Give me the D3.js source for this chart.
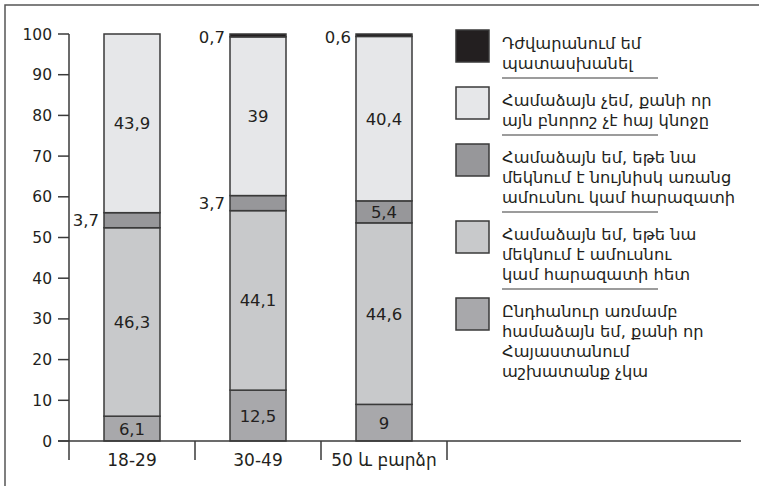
<!DOCTYPE html>
<html>
<head>
<meta charset="utf-8">
<script src="https://cdn.jsdelivr.net/npm/d3@7/dist/d3.min.js"></script>
<style>
  html, body { margin: 0; padding: 0; background: #fff; }
  svg { display: block; }
  text { font-family: "DejaVu Sans", Verdana, sans-serif; fill: #231f20; }
</style>
</head>
<body>
<svg id="chart" width="759" height="486"></svg>
<script>
// ---- data ----
const categories = ["18-29", "30-49", "50 և բարձր"];
const seriesNames = [
  "Ընդհանուր առմամբ համաձայն եմ, քանի որ Հայաստանում աշխատանք չկա",
  "Համաձայն եմ, եթե նա մեկնում է ամուսնու կամ հարազատի հետ",
  "Համաձայն եմ, եթե նա մեկնում է նույնիսկ առանց ամուսնու կամ հարազատի",
  "Համաձայն չեմ, քանի որ այն բնորոշ չէ հայ կնոջը",
  "Դժվարանում եմ պատասխանել"
];
const legendLines = [
  ["Ընդհանուր առմամբ", "համաձայն եմ, քանի որ", "Հայաստանում", "աշխատանք չկա"],
  ["Համաձայն եմ, եթե նա", "մեկնում է ամուսնու", "կամ հարազատի հետ"],
  ["Համաձայն եմ, եթե նա", "մեկնում է նույնիսկ առանց", "ամուսնու կամ հարազատի"],
  ["Համաձայն չեմ, քանի որ", "այն բնորոշ չէ հայ կնոջը"],
  ["Դժվարանում եմ", "պատասխանել"]
];
const nationalWork   = [6.1, 12.5, 9];
const withHusband    = [46.3, 44.1, 44.6];
const withoutHusband = [3.7, 3.7, 5.4];
const disagree       = [43.9, 39, 40.4];
const hardToSay      = [0, 0.7, 0.6];
const yTicks = [0, 10, 20, 30, 40, 50, 60, 70, 80, 90, 100];
const colors = ["#a8a8ab", "#c8c9cb", "#97979a", "#e6e7e9", "#231f20"];

const seriesValues = [nationalWork, withHusband, withoutHusband, disagree, hardToSay];

// ---- layout ----
const svg = d3.select("#chart");
const y = d3.scaleLinear().domain([0, 100]).range([441, 34]);
const x = d3.scaleBand().domain(categories).range([69, 447]).paddingInner(0).paddingOuter(0);
const barW = 56;
const stroke = "#3a3a3a";

// frame
svg.append("path")
  .attr("d", "M5,486 L5,5 L759,5")
  .attr("fill", "none").attr("stroke", "#555").attr("stroke-width", 1.5);

// stacked data
const table = categories.map((c, i) => {
  const o = { cat: c, idx: i };
  seriesNames.forEach((s, k) => o[s] = seriesValues[k][i]);
  return o;
});
const stack = d3.stack().keys(seriesNames)(table);

const g = svg.append("g");
stack.forEach((layer, k) => {
  g.selectAll(null).data(layer.filter(d => seriesValues[k][d.data.idx] > 0)).join("rect")
    .attr("x", d => x(d.data.cat) + (x.bandwidth() - barW) / 2)
    .attr("width", barW)
    .attr("y", d => y(d[1]))
    .attr("height", d => y(d[0]) - y(d[1]))
    .attr("fill", colors[k])
    .attr("stroke", stroke)
    .attr("stroke-width", 1.5);
});

// value labels
const fmt = v => String(v).replace(".", ",");
stack.forEach((layer, k) => {
  layer.forEach((d) => {
    const v = seriesValues[k][d.data.idx];
    if (v <= 0) return;
    const cx = x(d.data.cat) + x.bandwidth() / 2;
    const cy = (y(d[0]) + y(d[1])) / 2;
    const small = v < 5;
    const t = svg.append("text")
      .attr("font-size", 16.5)
      .attr("dy", "0.36em")
      .text(fmt(v));
    if (small) {
      t.attr("x", cx - barW / 2 - 5).attr("y", k === 4 ? cy + 2 : cy).attr("text-anchor", "end");
    } else {
      t.attr("x", cx).attr("y", cy).attr("text-anchor", "middle");
    }
  });
});

// y axis
const yAxis = svg.append("g");
yAxis.append("line").attr("x1", 69).attr("x2", 69).attr("y1", y(100)).attr("y2", 460)
  .attr("stroke", stroke).attr("stroke-width", 1.5);
yTicks.forEach(t => {
  yAxis.append("line").attr("x1", 58).attr("x2", 69).attr("y1", y(t)).attr("y2", y(t))
    .attr("stroke", stroke).attr("stroke-width", 1.5);
  yAxis.append("text").attr("x", 52).attr("y", y(t)).attr("dy", "0.36em")
    .attr("text-anchor", "end").attr("font-size", 15.5).text(t);
});

// x axis baseline
svg.append("line").attr("x1", 58).attr("x2", 741).attr("y1", y(0)).attr("y2", y(0))
  .attr("stroke", stroke).attr("stroke-width", 1.5);
// category separators
categories.forEach((c) => {
  const xe = x(c) + x.bandwidth();
  svg.append("line").attr("x1", xe).attr("x2", xe).attr("y1", y(0)).attr("y2", 460)
    .attr("stroke", stroke).attr("stroke-width", 1.5);
  svg.append("text").attr("x", x(c) + x.bandwidth() / 2).attr("y", 466)
    .attr("text-anchor", "middle").attr("font-size", 17).text(c);
});

// legend (top to bottom = reverse stack order)
const lineH = 20;
const gap = 17;
let ly = 30;
const order = [4, 3, 2, 1, 0];
order.forEach((k, idx) => {
  const lines = legendLines[k];
  svg.append("rect").attr("x", 456).attr("y", ly).attr("width", 33).attr("height", 32)
    .attr("fill", colors[k]).attr("stroke", stroke).attr("stroke-width", 1.5);
  lines.forEach((ln, j) => {
    svg.append("text").attr("x", 502).attr("y", ly + 19 + j * lineH)
      .attr("font-size", 16.3).text(ln);
  });
  const lastBase = ly + 19 + (lines.length - 1) * lineH;
  if (idx < order.length - 1) {
    svg.append("line").attr("x1", 502).attr("x2", 658)
      .attr("y1", lastBase + 9).attr("y2", lastBase + 9)
      .attr("stroke", stroke).attr("stroke-width", 1.2);
  }
  ly += lines.length * lineH + gap;
});
</script>
</body>
</html>
